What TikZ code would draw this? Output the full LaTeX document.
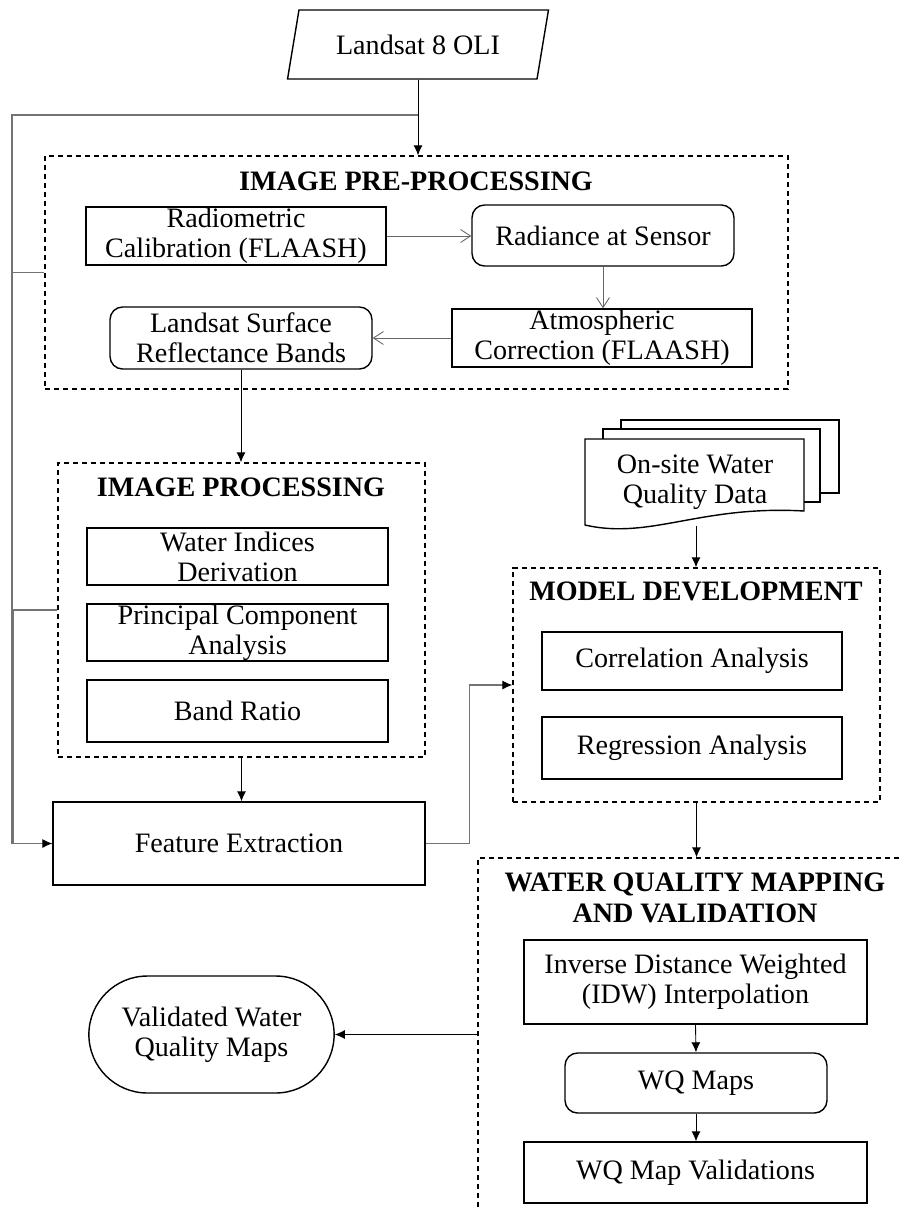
\documentclass[tikz,border=0pt]{standalone}
\usepackage{fontspec}
\setmainfont{Liberation Serif}
\usetikzlibrary{shapes.geometric,shapes.misc,positioning,arrows.meta}

\begin{document}
\begin{tikzpicture}[
        x=0.02cm, y=-0.02cm,
        every node/.style={font=\fontsize{16}{17}\selectfont},
        proc/.style={rectangle, draw=black, line width=0.8pt, align=center, inner sep=0pt},
        procr/.style={proc, rounded corners=0.25cm},
        group/.style={draw=black, line width=0.8pt, dash pattern=on 0.1cm off 0.08cm},
        title/.style={font=\fontsize{16}{17.6}\selectfont\bfseries, align=center},
        doc/.style={draw=black, line width=0.8pt, fill=white},
        flow/.style={line width=0.5pt, -{Latex[length=2mm,width=1.8mm]}},
        openflow/.style={line width=0.5pt, draw=black!60, -{Straight Barb[length=2mm,width=2.6mm]}},
        feed/.style={line width=0.6pt, draw=black!55},
        feedtip/.style={feed, -{Latex[length=2mm,width=1.8mm,color=black]}}
    ]
        \useasboundingbox (0,0) rectangle (901,1207);
        \clip (0,0) rectangle (901,1207);

        % Input
        \node[trapezium, trapezium left angle=75, trapezium right angle=105, trapezium stretches=true,
              draw, line width=0.8pt, minimum width=5.22cm, minimum height=1.38cm] (landsat) at (418,44.5) {Landsat 8 OLI};

        % Image pre-processing
        \node[group, minimum width=14.86cm, minimum height=4.66cm] (prebox) at (416.5,272.5) {};
        \node[title] (pretitle) at (416,181) {IMAGE PRE-PROCESSING};
        \node[proc, minimum width=6cm, minimum height=1.16cm] (radcal) at (236,236) {Radiometric\\Calibration (FLAASH)};
        \node[procr, minimum width=5.24cm, minimum height=1.22cm] (radsen) at (603,235.5) {Radiance at Sensor};
        \node[proc, minimum width=6cm, minimum height=1.16cm] (atmcor) at (602,338) {Atmospheric\\Correction (FLAASH)};
        \node[procr, minimum width=5.24cm, minimum height=1.24cm] (lsrb) at (241,338) {Landsat Surface\\Reflectance Bands};

        % Image processing
        \node[group, minimum width=7.34cm, minimum height=5.88cm] (ipbox) at (241.5,610) {};
        \node[title] (iptitle) at (241,487) {IMAGE PROCESSING};
        \node[proc, minimum width=6.02cm, minimum height=1.14cm] (widx) at (237.5,556.5) {Water Indices\\Derivation};
        \node[proc, minimum width=6.02cm, minimum height=1.14cm] (pca) at (237.5,632.5) {Principal Component\\Analysis};
        \node[proc, minimum width=6.02cm, minimum height=1.24cm] (bratio) at (237.5,711) {Band Ratio};

        \node[proc, minimum width=7.44cm, minimum height=1.66cm] (fe) at (239,843.5) {Feature Extraction};

        % On-site data
        \draw[doc] (621,420) rectangle (839,493);
        \draw[doc] (603,429) rectangle (820,502);
        \draw[doc] (585,525) -- (585,439) -- (804,439) -- (804,511) .. controls (700,505) and (650,540) .. (585,525) -- cycle;
        \node[align=center] (onsite) at (695,482) {On-site Water\\Quality Data};
        \coordinate (docbot) at (696,526);

        % Model development
        \node[group, minimum width=7.34cm, minimum height=4.68cm] (mdbox) at (696.5,685) {};
        \node[title] (mdtitle) at (696,591) {MODEL DEVELOPMENT};
        \node[proc, minimum width=6cm, minimum height=1.16cm] (corr) at (692,661) {Correlation Analysis};
        \node[proc, minimum width=6cm, minimum height=1.24cm] (regr) at (692,748) {Regression Analysis};

        % Mapping and validation
        \node[group, minimum width=9.04cm, minimum height=7.44cm] (wqbox) at (704,1044) {};
        \node[title] (wqtitle) at (695,897.5) {WATER QUALITY MAPPING\\AND VALIDATION};
        \node[proc, minimum width=6.86cm, minimum height=1.68cm] (idw) at (695.5,982) {Inverse Distance Weighted\\(IDW) Interpolation};
        \node[procr, minimum width=5.24cm, minimum height=1.2cm] (wqmaps) at (696,1083) {WQ Maps};
        \node[proc, minimum width=6.86cm, minimum height=1.22cm] (wqval) at (695.5,1172.5) {WQ Map Validations};

        % Output
        \node[rounded rectangle, draw, line width=0.8pt, minimum width=5.14cm, minimum height=2.34cm, align=center] (valid) at (211.5,1034.5) {Validated Water\\Quality Maps};

        % Connections
        \draw[flow] (landsat.south) -- (landsat.south |- prebox.north);
        \coordinate (split) at (418,115);
        \draw[feed] (split) -- ++(-406,0) |- (fe.west);
        \draw[feed] (prebox.west) -- ++(-32,0) |- (fe.west);
        \draw[feedtip] (ipbox.west) -- ++(-44,0) |- (fe.west);
        \draw[openflow] (radcal.east) -- (radcal.east -| radsen.west);
        \draw[openflow] (radsen.south) -- (radsen.south |- atmcor.north);
        \draw[openflow] (atmcor.west) -- (atmcor.west -| lsrb.east);
        \draw[flow] (lsrb.south) -- (lsrb.south |- ipbox.north);
        \draw[flow] (ipbox.south) -- (ipbox.south |- fe.north);
        \draw[feedtip] (fe.east) -- ++(44,0) |- (mdbox.west);
        \draw[flow] (docbot) -- (docbot |- mdbox.north);
        \draw[flow] (mdbox.south) -- (mdbox.south |- wqbox.north);
        \draw[flow] (idw.south) -- (wqmaps.north);
        \draw[flow] (wqmaps.south) -- (wqmaps.south |- wqval.north);
        \draw[flow] (valid.east -| wqbox.west) -- (valid.east);
    \end{tikzpicture}
\end{document}
